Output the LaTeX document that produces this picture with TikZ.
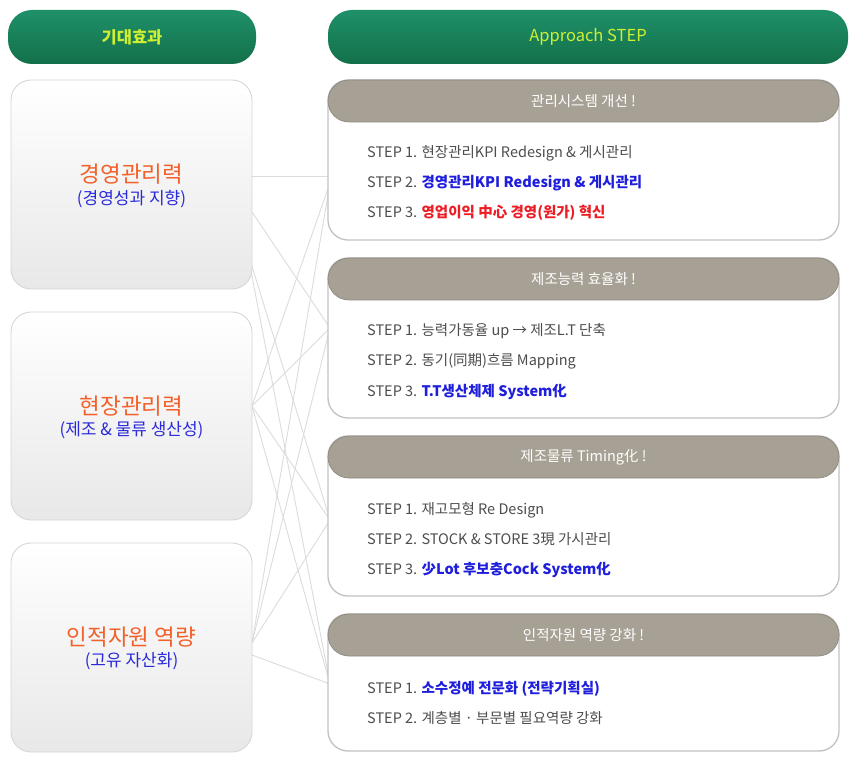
\documentclass[tikz,border=0pt]{standalone}
\usepackage{fontspec}
\setmainfont{Noto Sans CJK KR}
\definecolor{gtop}{HTML}{1F9069}
\definecolor{gbot}{HTML}{137049}
\definecolor{ylw}{HTML}{CFEF33}
\definecolor{barfill}{HTML}{A7A195}
\definecolor{barline}{HTML}{8E887D}
\definecolor{org}{HTML}{F2612A}
\definecolor{blu}{HTML}{2A2ADB}
\definecolor{stepblue}{HTML}{1E1EDC}
\definecolor{stepred}{HTML}{EE1D25}
\definecolor{txtgray}{HTML}{4D4D4D}
\definecolor{connc}{HTML}{DCDCDC}
\definecolor{lboxline}{HTML}{D6D6D6}
\definecolor{rboxline}{HTML}{C2C2C2}
\begin{document}
\begin{tikzpicture}[x=1pt,y=-1pt,
  greenhdr/.style={rectangle, rounded corners=24pt, top color=gtop, bottom color=gbot,
    draw=none, inner sep=0pt, outer sep=0pt, text=ylw, font=\fontsize{16.5}{19}\selectfont\bfseries},
  leftbox/.style={rectangle, rounded corners=20pt, top color=white, bottom color=black!9,
    draw=lboxline, line width=0.9pt, inner sep=0pt, outer sep=0pt, minimum width=241pt},
  rightbox/.style={rectangle, rounded corners=20pt, fill=white, draw=rboxline,
    line width=1.3pt, inner sep=0pt, outer sep=0pt, minimum width=511pt},
  barbox/.style={rectangle, rounded corners=21pt, fill=barfill, draw=barline,
    line width=0.7pt, inner sep=0pt, outer sep=0pt, minimum width=511pt, minimum height=42pt,
    text=white, font=\fontsize{14.5}{17}\selectfont},
  titletxt/.style={text=org, font=\fontsize{22.5}{26}\selectfont, inner sep=0pt},
  subtxt/.style={text=blu, font=\fontsize{17}{20}\selectfont, inner sep=0pt},
  steptxt/.style={anchor=west, text=txtgray, font=\fontsize{14.5}{17}\selectfont,
    inner sep=0pt, text height=0.8em, text depth=0.2em},
  connline/.style={draw=connc, line width=0.9pt}
]
\useasboundingbox[fill=white] (0,0) rectangle (855,762);

% connector end points
\coordinate (l1a) at (252,176);
\coordinate (l1b) at (252,212);
\coordinate (l1c) at (247,250);
\coordinate (l2a) at (252,406);
\coordinate (l3a) at (252,643);
\coordinate (l3b) at (252,655);
\coordinate (r1a) at (330,176);
\coordinate (r1b) at (330,183);
\coordinate (r2) at (330,328);
\coordinate (r3) at (330,520);
\coordinate (r4) at (330,684);

% connectors
\draw[connline] (l1a) -- (r1a);
\draw[connline] (l1b) -- (r2);
\draw[connline] (l1c) -- (r3);
\draw[connline] (l1c) -- (r4);
\draw[connline] (l2a) -- (r1b);
\draw[connline] (l2a) -- (r2);
\draw[connline] (l2a) -- (r3);
\draw[connline] (l2a) -- (r4);
\draw[connline] (l3a) -- (r1b);
\draw[connline] (l3a) -- (r2);
\draw[connline] (l3a) -- (r3);
\draw[connline] (l3b) -- (r4);

% green headers
\node[greenhdr, minimum width=248pt, minimum height=54pt] (hl) at (132,37) {기대효과};
\node[greenhdr, minimum width=520pt, minimum height=54pt, font=\fontsize{16.5}{19}\selectfont] (hr) at (588,37) {Approach STEP};

% left boxes
\node[leftbox, minimum height=209pt] (lb1) at (131.5,184.5) {};
\node[leftbox, minimum height=208pt] (lb2) at (131.5,416) {};
\node[leftbox, minimum height=209pt] (lb3) at (131.5,647.5) {};

\node[titletxt] (t1) at (131.5,174) {경영관리력};
\node[subtxt] (u1) at (131.5,199) {(경영성과 지향)};
\node[titletxt] (t2) at (131.5,406) {현장관리력};
\node[subtxt] (u2) at (131.5,430) {(제조 \& 물류 생산성)};
\node[titletxt] (t3) at (131.5,637) {인적자원 역량};
\node[subtxt] (u3) at (131.5,661) {(고유 자산화)};

% right boxes
\node[rightbox, minimum height=160pt] (rb1) at (583.5,160) {};
\node[barbox] (bb1) at (583.5,101) {관리시스템 개선 !};
\node[rightbox, minimum height=160pt] (rb2) at (583.5,338) {};
\node[barbox] (bb2) at (583.5,279) {제조능력 효율화 !};
\node[rightbox, minimum height=160pt] (rb3) at (583.5,516) {};
\node[barbox] (bb3) at (583.5,457) {제조물류 Timing化 !};
\node[rightbox, minimum height=137pt] (rb4) at (583.5,682.5) {};
\node[barbox] (bb4) at (583.5,635) {인적자원 역량 강화 !};

% steps
\node[steptxt] (s11) at (367,155) {STEP 1. 현장관리KPI Redesign \& 게시관리};
\node[steptxt] (s12) at (367,185) {STEP 2. \textcolor{stepblue}{\bfseries 경영관리KPI Redesign \& 게시관리}};
\node[steptxt] (s13) at (367,215) {STEP 3. \textcolor{stepred}{\bfseries 영업이익 中心 경영(원가) 혁신}};

\node[steptxt] (s21) at (367,333) {STEP 1. 능력가동율 up → 제조L.T 단축};
\node[steptxt] (s22) at (367,363) {STEP 2. 동기(同期)흐름 Mapping};
\node[steptxt] (s23) at (367,393) {STEP 3. \textcolor{stepblue}{\bfseries T.T생산체제 System化}};

\node[steptxt] (s31) at (367,511) {STEP 1. 재고모형 Re Design};
\node[steptxt] (s32) at (367,541) {STEP 2. STOCK \& STORE 3現 가시관리};
\node[steptxt] (s33) at (367,571) {STEP 3. \textcolor{stepblue}{\bfseries 少Lot 후보충Cock System化}};

\node[steptxt] (s41) at (367,690) {STEP 1. \textcolor{stepblue}{\bfseries 소수정예 전문화 (전략기획실)}};
\node[steptxt] (s42) at (367,720) {STEP 2. 계층별 · 부문별 필요역량 강화};
\end{tikzpicture}
\end{document}
